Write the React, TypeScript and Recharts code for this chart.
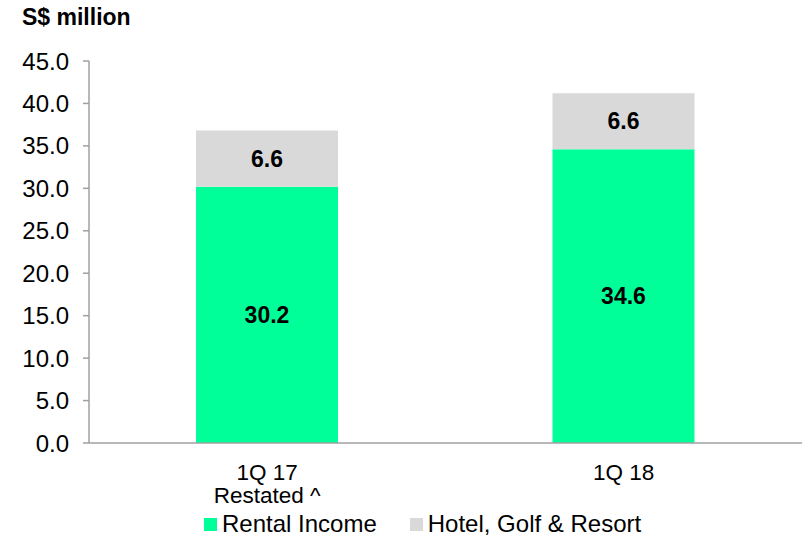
import { BarChart, Bar, XAxis, YAxis, Legend, LabelList } from 'recharts';

const categories = ['1Q 17|Restated ^', '1Q 18'];
const rentalIncome = [30.2, 34.6];
const hotelGolfResort = [6.6, 6.6];
const yTicks = [0, 5, 10, 15, 20, 25, 30, 35, 40, 45];

const seriesNames = { rental: 'Rental Income', hotel: 'Hotel, Golf & Resort' };
const GREEN = '#00FF99';
const GREY = '#D9D9D9';
const AXIS = '#A0A0A0';
const FONT = '"Liberation Sans", Arial, sans-serif';

const data = categories.map((name, i) => ({
  name,
  rental: rentalIncome[i],
  hotel: hotelGolfResort[i],
}));

// two-line category label, one <text> per line
function CategoryTick({ x, y, payload }: any) {
  const lines = String(payload.value).split('|');
  return (
    <g>
      {lines.map((l, i) => (
        <text key={i} x={x} y={y + 36 + i * 23} textAnchor="middle" fill="#000" fontSize={22.5} fontFamily={FONT}>
          {l}
        </text>
      ))}
    </g>
  );
}

function renderLegend() {
  const items = [
    { label: seriesNames.rental, color: GREEN },
    { label: seriesNames.hotel, color: GREY },
  ];
  return (
    <div style={{ display: 'flex', alignItems: 'center', fontFamily: FONT, fontSize: 24, color: '#000', whiteSpace: 'nowrap' }}>
      {items.map((it) => (
        <div key={it.label} style={{ display: 'flex', alignItems: 'center', marginRight: 33 }}>
          <span style={{ width: 13, height: 13, background: it.color, marginRight: 5, display: 'inline-block' }} />
          <span>{it.label}</span>
        </div>
      ))}
    </div>
  );
}

export default function App() {
  return (
    <div style={{ position: 'absolute', left: 0, top: 0, width: 811, height: 536, background: '#fff' }}>
      <div style={{ position: 'absolute', left: 22, top: 4, fontFamily: FONT, fontWeight: 'bold', fontSize: 23 }}>
        S$ million
      </div>
      <BarChart
        width={811}
        height={536}
        data={data}
        margin={{ top: 61, right: 9, bottom: 26, left: 0 }}
        style={{ fontFamily: FONT }}
      >
        {/* axis line with ticks on the category boundaries */}
        <XAxis
          xAxisId={0}
          type="number"
          domain={[0, 2]}
          ticks={[0, 1, 2]}
          tick={false}
          tickSize={7}
          height={1}
          stroke={AXIS}
          strokeWidth={1.5}
        />
        <XAxis
          xAxisId={1}
          dataKey="name"
          axisLine={false}
          tickLine={false}
          tickSize={0}
          tickMargin={0}
          height={66}
          interval={0}
          tick={<CategoryTick />}
        />
        <YAxis
          domain={[0, 45]}
          ticks={yTicks}
          width={89}
          tickSize={6}
          tickMargin={14}
          stroke={AXIS}
          strokeWidth={1.5}
          tick={{ fill: '#000', fontSize: 24, fontFamily: FONT }}
          tickFormatter={(v: number) => v.toFixed(1)}
          interval={0}
        />
        <Legend
          content={renderLegend}
          wrapperStyle={{ position: 'absolute', left: 204, top: 510, bottom: 'auto', width: 'auto', height: 0 }}
        />
        <Bar xAxisId={1} dataKey="rental" name={seriesNames.rental} stackId="a" fill={GREEN} barSize={142} isAnimationActive={false}>
          <LabelList dataKey="rental" position="center" fill="#000" fontSize={23} fontWeight="bold" fontFamily={FONT} formatter={(v: any) => Number(v).toFixed(1)} />
        </Bar>
        <Bar xAxisId={1} dataKey="hotel" name={seriesNames.hotel} stackId="a" fill={GREY} barSize={142} isAnimationActive={false}>
          <LabelList dataKey="hotel" position="center" fill="#000" fontSize={23} fontWeight="bold" fontFamily={FONT} formatter={(v: any) => Number(v).toFixed(1)} />
        </Bar>
      </BarChart>
    </div>
  );
}
